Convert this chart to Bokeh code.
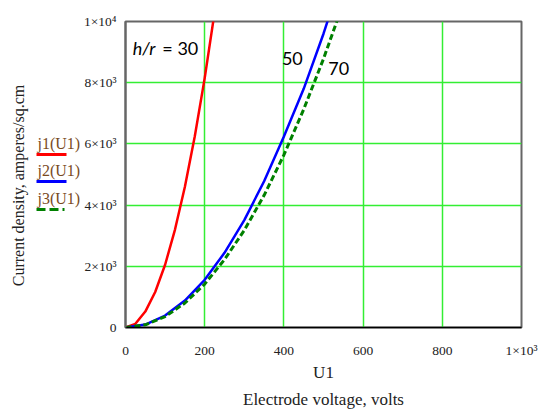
import math
from bokeh.plotting import figure
from bokeh.layouts import row
from bokeh.models import Range1d, FixedTicker, Label, Title
from bokeh.core.properties import value
from bokeh.embed import file_html
from bokeh.resources import INLINE

# ---- data ----
u_j1 = [0, 25, 50, 75, 100, 125, 150, 175, 200, 225]
j1 = [0, 120, 520, 1160, 2050, 3200, 4600, 6250, 8150, 10300]

u_j2 = [0, 50, 100, 150, 200, 250, 300, 350, 400, 450, 500, 520]
j2 = [0, 97, 390, 880, 1560, 2440, 3510, 4780, 6240, 7800, 9600, 10400]

u_j3 = [0, 50, 100, 150, 200, 250, 300, 350, 400, 450, 500, 550]
j3 = [0, 88, 355, 800, 1420, 2220, 3180, 4320, 5640, 7130, 8780, 10600]

x_ticks = [0, 200, 400, 600, 800, 1000]
x_tick_labels = ["0", "200", "400", "600", "800", "1×10³"]
y_ticks = [0, 2000, 4000, 6000, 8000, 10000]
y_tick_labels = ["0", "2×10³", "4×10³", "6×10³", "8×10³", "1×10⁴"]

legend_labels = ["j1(U1)", "j2(U1)", "j3(U1)"]
curve_notes = ["50", "70"]

H = 415
W1 = 80
W2 = 460
FRAME_TOP = 21
FRAME_BOTTOM = 327

SERIF = "Liberation Serif"
SANS = "Lato"
GRID = "#33ee33"
TXT = "#222222"

# ---- main plot ----
p = figure(width=W2, height=H, output_backend="svg", toolbar_location=None,
           x_range=Range1d(0, 1000), y_range=Range1d(0, 10000),
           min_border_left=45, min_border_right=19, min_border_top=FRAME_TOP,
           min_border_bottom=H - FRAME_BOTTOM)
p.background_fill_color = "white"
p.border_fill_color = "white"
p.outline_line_color = "#666666"
p.outline_line_width = 2

p.xaxis.ticker = FixedTicker(ticks=x_ticks)
p.yaxis.ticker = FixedTicker(ticks=y_ticks)
p.xaxis.major_label_overrides = {t: l for t, l in zip(x_ticks, x_tick_labels)}
p.yaxis.major_label_overrides = {t: l for t, l in zip(y_ticks, y_tick_labels)}
for ax in (p.xaxis, p.yaxis):
    ax.major_tick_line_color = None
    ax.minor_tick_line_color = None
    ax.major_label_text_font = SERIF
    ax.major_label_text_font_size = "13.5px"
    ax.major_label_text_color = TXT
p.xaxis.axis_line_color = "black"
p.xaxis.axis_line_width = 1.5
p.yaxis.axis_line_color = "#666666"
p.yaxis.axis_line_width = 2
p.xaxis.major_label_standoff = 9
p.yaxis.major_label_standoff = 3

p.xaxis.axis_label = "U1"
p.xaxis.axis_label_text_font = SERIF
p.xaxis.axis_label_text_font_style = "normal"
p.xaxis.axis_label_text_font_size = "17px"
p.xaxis.axis_label_text_color = TXT
p.xaxis.axis_label_standoff = 2

p.xgrid.ticker = FixedTicker(ticks=[200, 400, 600, 800])
p.ygrid.ticker = FixedTicker(ticks=[2000, 4000, 6000, 8000])
p.xgrid.grid_line_color = GRID
p.ygrid.grid_line_color = GRID
p.xgrid.grid_line_width = 1.5
p.ygrid.grid_line_width = 1.5

p.line(u_j1, j1, line_color="#ff0000", line_width=2.5)
p.line(u_j2, j2, line_color="#0000ff", line_width=2.5)
p.line(u_j3, j3, line_color="#008000", line_width=3, line_dash="6 3")

p.add_layout(Label(x=18, y=9120, text="h/r", text_font=SANS,
                   text_font_style="italic", text_font_size="18px",
                   text_baseline="middle", text_color="black"))
p.add_layout(Label(x=93, y=9120, text="= 30", text_font=SANS,
                   text_font_size="18px", text_baseline="middle",
                   text_color="black"))
p.add_layout(Label(x=395, y=8790, text=curve_notes[0], text_font=SANS,
                   text_font_size="18px", text_baseline="middle",
                   text_color="black"))
p.add_layout(Label(x=512, y=8460, text=curve_notes[1], text_font=SANS,
                   text_font_size="18px", text_baseline="middle",
                   text_color="black"))

p.add_layout(Title(text="Electrode voltage, volts", align="center",
                   text_font=SERIF, text_font_style="normal",
                   text_font_size="17px", text_color=TXT, standoff=6), "below")

# ---- left panel: y label + legend (frame is aligned with main frame) ----
lf = figure(width=W1, height=H, output_backend="svg", toolbar_location=None,
            x_range=Range1d(0, W1), y_range=Range1d(FRAME_BOTTOM, FRAME_TOP),
            x_axis_type=None, y_axis_type=None, min_border=0,
            min_border_top=FRAME_TOP, min_border_bottom=H - FRAME_BOTTOM)
lf.outline_line_color = None
lf.grid.visible = False
lf.background_fill_color = "white"
lf.border_fill_color = "white"

lf.text(x=[18], y=[185], text=["Current density, amperes/sq.cm"],
        angle=math.pi / 2, text_align="center", text_baseline="middle",
        text_font=value(SERIF), text_font_size="16px", text_color=TXT)

leg_colors = ["#ff0000", "#0000ff", "#008000"]
leg_dash = ["solid", "solid", "9 4 9 4 2 4"]
leg_text_y = [143, 170, 198]
for lbl, c, d, ty in zip(legend_labels, leg_colors, leg_dash, leg_text_y):
    lf.text(x=[37], y=[ty], text=[lbl], text_align="left",
            text_baseline="middle", text_font=value(SERIF),
            text_font_size="16px", text_color="#7a4b1e")
    lf.line(x=[36, 66], y=[ty + 11, ty + 11], line_color=c,
            line_width=3, line_dash=d)

layout = row(lf, p)
open("out.html", "w").write(file_html(layout, INLINE))
